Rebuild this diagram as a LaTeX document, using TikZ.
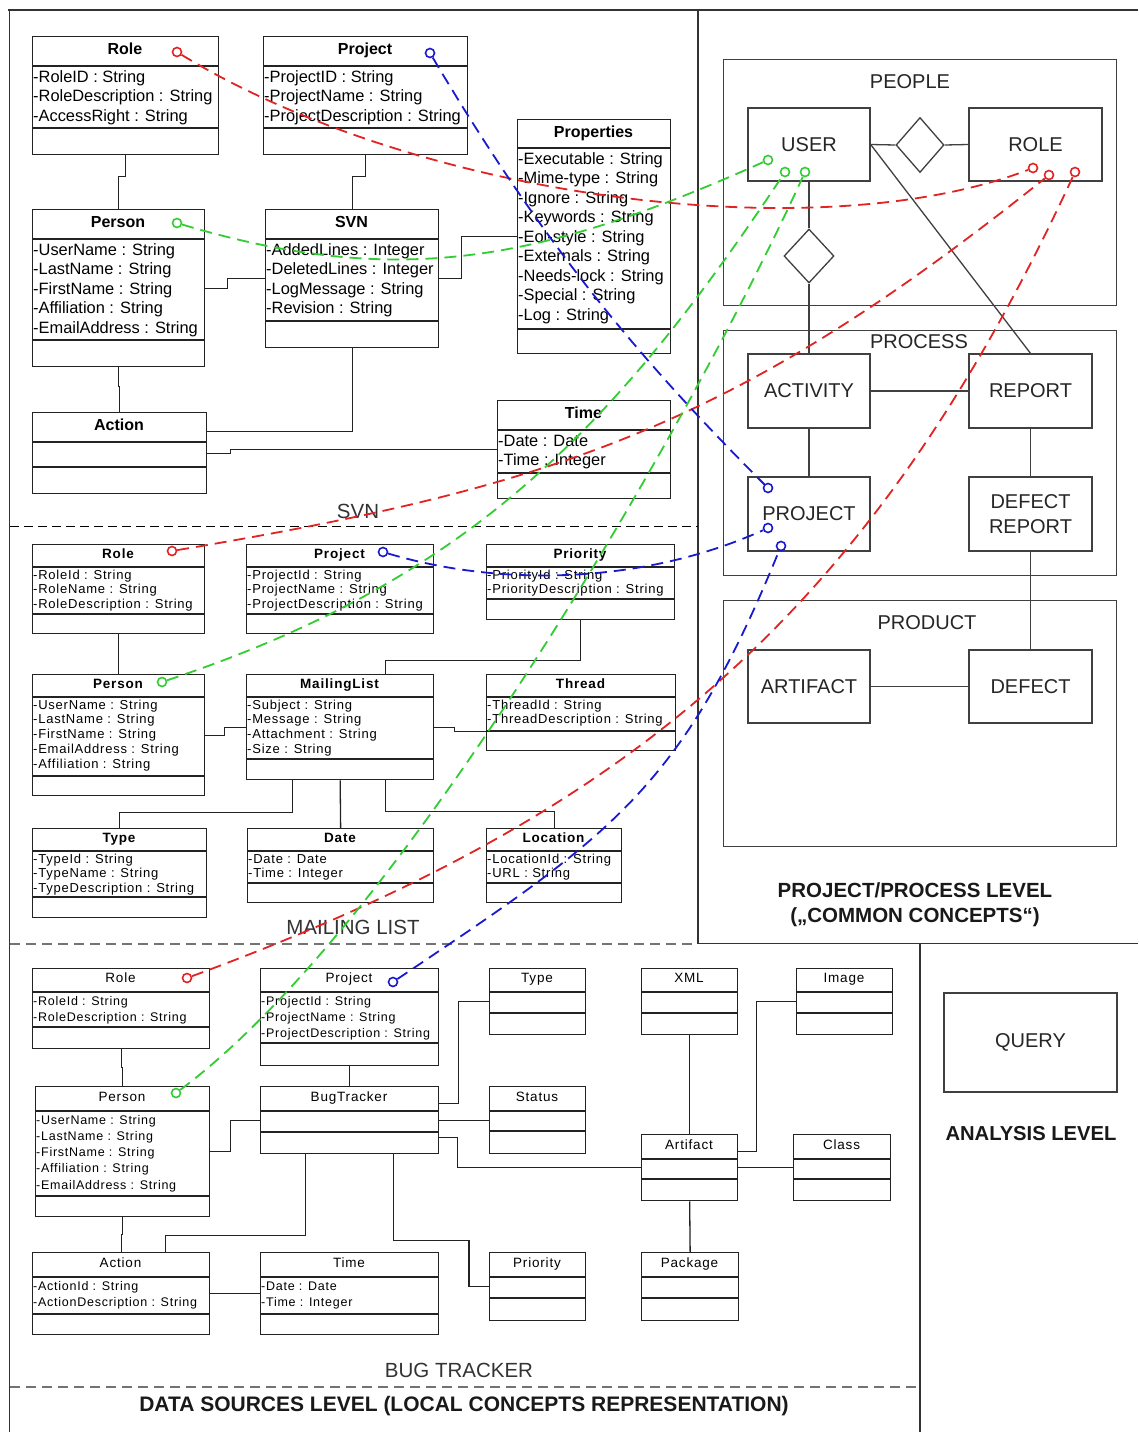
\documentclass[tikz,border=0pt]{standalone}
\usepackage{fontspec}
\setmainfont{Liberation Sans}
\newfontfamily\mlfam[LetterSpace=6]{Liberation Sans}
\newfontfamily\btfam[LetterSpace=6]{Liberation Sans}
\usetikzlibrary{shapes.geometric}
\definecolor{mapred}{RGB}{225,35,35}
\definecolor{mapgreen}{RGB}{50,205,50}
\definecolor{mapblue}{RGB}{25,25,205}
\definecolor{ink}{RGB}{35,35,35}

\tikzset{
  classbox/.style={draw=ink, line width=1.3pt, inner sep=0pt},
  classline/.style={draw=ink, line width=1.3pt},
  link/.style={draw=ink, line width=1.3pt},
  titletext/.style={inner sep=0pt, anchor=base, font=\titlefont},
  attrtext/.style={inner sep=0pt, anchor=base west, font=\attrfont},
  entity/.style={draw=black!75, line width=1.3pt, inner sep=0pt, align=center,
    font=\fontsize{20}{24.5}\selectfont, text=black!85},
  area/.style={draw=black!75, line width=1.3pt, inner sep=0pt},
  erlink/.style={draw=black!75, line width=1.3pt},
  rel/.style={diamond, draw=black!75, line width=1.3pt, inner sep=0pt},
  frame/.style={draw=black!80, line width=1.8pt},
  sepblack/.style={draw=black, line width=1.5pt, dash pattern=on 9pt off 5pt},
  sepgray/.style={draw=black!55, line width=2pt, dash pattern=on 10pt off 6pt},
  mapline/.style={line width=1.8pt, dash pattern=on 12pt off 7pt},
  endpt/.style={circle, draw, line width=1.6pt, fill=white, inner sep=0pt, minimum size=9pt},
  level/.style={font=\fontsize{20.5}{24.5}\selectfont\bfseries, text=black!90, align=center},
  section/.style={font=\fontsize{20.5}{24}\selectfont, text=black!80},
  label/.style={font=\fontsize{20}{24}\selectfont, text=black!85},
}

% UML class: name, x1, y1, x2, y2, header rule, attribute rule, title, attributes
\newcommand\umlclass[9]{%
  \node[classbox, anchor=north west, minimum width={(#4-#2)*1pt},
        minimum height={(#5-#3)*1pt}] (#1) at (#2,#3) {};
  \draw[classline] (#2,#6) -- (#4,#6);
  \draw[classline] (#2,#7) -- (#4,#7);
  \node[titletext] at ({(#2+#4)/2},{(#3+#6)/2+\titledy}) {#8};
  \def\attrlist{#9}%
  \ifx\attrlist\empty\else
    \foreach \myattr [count=\myi from 0] in {#9}
      {\node[attrtext] at (#2+1,{#6+\firstdy+\myi*\attrdy}) {\myattr};}%
  \fi
}
% entity box: name, x1, y1, x2, y2, text
\newcommand\entitybox[6]{%
  \node[entity, minimum width={(#4-#2)*1pt}, minimum height={(#5-#3)*1pt}]
    (#1) at ({(#2+#4)/2},{(#3+#5)/2}) {#6};
}
\newcommand\areabox[5]{%
  \node[area, anchor=north west, minimum width={(#4-#2)*1pt},
        minimum height={(#5-#3)*1pt}] (#1) at (#2,#3) {};
}

\begin{document}
\begin{tikzpicture}[x=1pt,y=-1pt]
\useasboundingbox[fill=white] (0,0) rectangle (1138,1432);

% ---------- level frames ----------
\draw[frame] (8,10) -- (1138,10);
\draw[frame] (9.5,10) -- (9.5,1432);
\draw[frame] (698,10) -- (698,943.5);
\draw[frame] (698,943.5) -- (1138,943.5);
\draw[frame] (920,943.5) -- (920,1432);
\draw[sepblack] (10,526.5) -- (698,526.5);
\draw[sepgray] (10,943.5) -- (698,943.5);
\draw[sepgray] (10,1387) -- (920,1387);

% ---------- SVN ----------
\def\titlefont{\fontsize{16}{19}\selectfont\bfseries}
\def\attrfont{\fontsize{16.4}{19}\selectfont}
\def\titledy{3.8}\def\firstdy{16.2}\def\attrdy{19.5}
\umlclass{svnRole}{32}{36}{218}{154}{66}{128}{Role}
  {-RoleID : String,-RoleDescription : String,-AccessRight : String}
\umlclass{svnProject}{263}{36}{467}{154}{66}{128}{Project}
  {-ProjectID : String,-ProjectName : String,-ProjectDescription : String}
\umlclass{svnPerson}{32}{209}{204}{366}{239}{340}{Person}
  {-UserName : String,-LastName : String,-FirstName : String,-Affiliation : String,-EmailAddress : String}
\umlclass{svnSvn}{265}{209}{438}{347}{239}{321}{SVN}
  {-AddedLines : Integer,-DeletedLines : Integer,-LogMessage : String,-Revision : String}
\umlclass{svnProps}{517}{119}{670}{353}{148}{329}{Properties}
  {-Executable : String,-Mime-type : String,-Ignore : String,-Keywords : String,-Eol-style : String,-Externals : String,-Needs-lock : String,-Special : String,-Log : String}
\umlclass{svnAction}{32}{412}{206}{493}{442}{467}{Action}{}
\umlclass{svnTime}{497}{400}{670}{498}{430}{473}{Time}
  {-Date : Date,-Time : Integer}

\draw[link] (svnRole.south) -- ++(0,21) -| (svnPerson.north);
\draw[link] (svnProject.south) -- ++(0,21) -| (svnSvn.north);
\draw[link] (svnPerson.east) -- ++(22,0) |- (svnSvn.west);
\draw[link] (svnSvn.east) -- ++(22,0) |- (svnProps.west);
\draw[link] (svnPerson.south) -- ++(0,19) -| (svnAction.north);
\draw[link] ([yshift=21.5pt]svnAction.east) -| (svnSvn.south);
\draw[link] (svnAction.east) -- ++(23,0) |- (svnTime.west);
\node[section] (svnLabel) at (358,511) {SVN};

% ---------- Mailing list ----------
\def\titlefont{\mlfam\fontsize{13.5}{16}\selectfont\bfseries}
\def\attrfont{\mlfam\fontsize{13}{15}\selectfont}
\def\titledy{3.3}\def\firstdy{12}\def\attrdy{14.9}
\umlclass{mlRole}{32}{544}{204}{633}{567}{614}{Role}
  {-RoleId : String,-RoleName : String,-RoleDescription : String}
\umlclass{mlProject}{246}{544}{433}{633}{567}{614}{Project}
  {-ProjectId : String,-ProjectName : String,-ProjectDescription : String}
\umlclass{mlPriority}{486}{544}{674}{619}{567}{599}{Priority}
  {-PriorityId : String,-PriorityDescription : String}
\umlclass{mlPerson}{32}{674}{204}{795}{697}{776}{Person}
  {-UserName : String,-LastName : String,-FirstName : String,-EmailAddress : String,-Affiliation : String}
\umlclass{mlList}{246}{674}{433}{779}{697}{759}{MailingList}
  {-Subject : String,-Message : String,-Attachment : String,-Size : String}
\umlclass{mlThread}{486}{674}{675}{750}{697}{731}{Thread}
  {-ThreadId : String,-ThreadDescription : String}
\umlclass{mlType}{32}{828}{206}{917}{851}{897}{Type}
  {-TypeId : String,-TypeName : String,-TypeDescription : String}
\umlclass{mlDate}{247}{828}{433}{902}{851}{883}{Date}
  {-Date : Date,-Time : Integer}
\umlclass{mlLocation}{486}{828}{621}{902}{851}{883}{Location}
  {-LocationId : String,-URL : String}

\draw[link] (mlRole.south) -- (mlPerson.north);
\draw[link] (mlPriority.south) -- ++(0,40) -| ([xshift=45.5pt]mlList.north);
\draw[link] (mlPerson.east) -- ++(19,0) |- (mlList.west);
\draw[link] (mlList.east) -- ++(20,0) |- ([yshift=-19pt]mlThread.west);
\draw[link] ([xshift=-47.5pt]mlList.south) -- ++(0,32) -| (mlType.north);
\draw[link] (mlList.south) -- (mlDate.north);
\draw[link] ([xshift=45.5pt]mlList.south) -- ++(0,31) -| (mlLocation.north);
\node[section] (mlLabel) at (353,927) {MAILING LIST};

% ---------- Bug tracker ----------
\def\titlefont{\btfam\fontsize{13.5}{16}\selectfont}
\def\attrfont{\btfam\fontsize{12.5}{15}\selectfont}
\def\titledy{2.8}\def\firstdy{13.2}\def\attrdy{16.2}
\umlclass{btRole}{32}{968}{209}{1048}{992}{1027}{Role}
  {-RoleId : String,-RoleDescription : String}
\umlclass{btProject}{260}{968}{438}{1065}{992}{1043}{Project}
  {-ProjectId : String,-ProjectName : String,-ProjectDescription : String}
\umlclass{btType}{489}{968}{585}{1034}{992}{1013}{Type}{}
\umlclass{btXml}{641}{968}{737}{1034}{992}{1013}{XML}{}
\umlclass{btImage}{796}{968}{892}{1034}{992}{1013}{Image}{}
\umlclass{btPerson}{35}{1086}{209}{1216}{1111}{1196}{Person}
  {-UserName : String,-LastName : String,-FirstName : String,-Affiliation : String,-EmailAddress : String}
\umlclass{btTracker}{260}{1086}{438}{1153}{1111}{1132}{BugTracker}{}
\umlclass{btStatus}{489}{1086}{585}{1153}{1111}{1131}{Status}{}
\umlclass{btArtifact}{641}{1134}{737}{1200}{1159}{1179}{Artifact}{}
\umlclass{btClass}{793}{1134}{890}{1200}{1159}{1179}{Class}{}
\umlclass{btAction}{32}{1252}{209}{1334}{1277}{1314}{Action}
  {-ActionId : String,-ActionDescription : String}
\umlclass{btTime}{260}{1252}{438}{1334}{1277}{1314}{Time}
  {-Date : Date,-Time : Integer}
\umlclass{btPriority}{489}{1252}{585}{1320}{1277}{1298}{Priority}{}
\umlclass{btPackage}{641}{1252}{738}{1320}{1277}{1298}{Package}{}

\draw[link] (btRole.south) -- ++(0,18) -| (btPerson.north);
\draw[link] (btProject.south) -- (btTracker.north);
\draw[link] (btPerson.east) -- ++(20,0) |- (btTracker.west);
\draw[link] ([yshift=16.5pt]btTracker.east) -- ++(19,0) |- (btType.west);
\draw[link] (btTracker.east) -- (btStatus.west);
\draw[link] ([yshift=-17.5pt]btTracker.east) -- ++(18,0) |- (btArtifact.west);
\draw[link] (btXml.south) -- (btArtifact.north);
\draw[link] ([yshift=16pt]btArtifact.east) -- ++(18,0) |- (btImage.west);
\draw[link] (btArtifact.east) -- (btClass.west);
\draw[link] (btArtifact.south) -- (btPackage.north);
\draw[link] (btPerson.south) -- ++(0,17) -| (btAction.north);
\draw[link] ([xshift=-44pt]btTracker.south) -- ++(0,81) -| ([xshift=44.5pt]btAction.north);
\draw[link] ([xshift=44pt]btTracker.south) |- ([xshift=-20pt,yshift=46pt]btPriority.west) |- (btPriority.west);
\draw[link] (btAction.east) -- (btTime.west);
\node[section] (btLabel) at (459,1370) {BUG TRACKER};
\node[level, font=\fontsize{21}{25}\selectfont\bfseries] (dsLabel) at (464,1406)
  {DATA SOURCES LEVEL (LOCAL CONCEPTS REPRESENTATION)};

% ---------- common concepts ----------
\areabox{people}{723}{59}{1116}{305}
\areabox{process}{723}{330}{1116}{575}
\areabox{product}{723}{600}{1116}{846}
\node[label] (peopleLabel) at (910,82) {PEOPLE};
\node[label] (processLabel) at (919,342) {PROCESS};
\node[label] (productLabel) at (927,623) {PRODUCT};
\entitybox{user}{748}{108}{870}{181}{USER}
\entitybox{role}{969}{108}{1102}{181}{ROLE}
\entitybox{activity}{748}{354}{870}{428}{ACTIVITY}
\entitybox{report}{969}{354}{1092}{428}{REPORT}
\entitybox{project}{748}{477}{870}{551}{PROJECT}
\entitybox{defrep}{969}{477}{1092}{551}{DEFECT\\REPORT}
\entitybox{artifact}{748}{650}{870}{723}{ARTIFACT}
\entitybox{defect}{969}{650}{1092}{723}{DEFECT}
\node[rel, minimum width=48pt, minimum height=55pt] (d1) at (920,145) {};
\node[rel, minimum width=50pt, minimum height=54pt] (d2) at (809,256) {};
\draw[erlink] (user.east) -- (d1.west);
\draw[erlink] (d1.east) -- (role.west);
\draw[erlink] (user.south) -- (d2.north);
\draw[erlink] (d2.south) -- (activity.north);
\draw[erlink] (user.east) -- (report.north);
\draw[erlink] (activity.east) -- (report.west);
\draw[erlink] (activity.south) -- (project.north);
\draw[erlink] (report.south) -- (defrep.north);
\draw[erlink] (defrep.south) -- (defect.north);
\draw[erlink] (artifact.east) -- (defect.west);
\node[level] (ppLabel) at (915,904.5) {PROJECT/PROCESS LEVEL\\(„COMMON CONCEPTS“)};

% ---------- analysis ----------
\entitybox{query}{944}{993}{1117}{1092}{QUERY}
\node[level, font=\fontsize{20.2}{24}\selectfont\bfseries] (anLabel) at (1031,1134) {ANALYSIS LEVEL};

% ---------- mapping end points ----------
\node[endpt, draw=mapred] (redSvn) at (177,52) {};
\node[endpt, draw=mapred] (redMl) at (172,551) {};
\node[endpt, draw=mapred] (redBt) at (187,978) {};
\node[endpt, draw=mapred] (redRoleA) at (1033,168) {};
\node[endpt, draw=mapred] (redRoleB) at (1049,175) {};
\node[endpt, draw=mapred] (redRoleC) at (1075,172) {};
\node[endpt, draw=mapblue] (blueSvn) at (430,53) {};
\node[endpt, draw=mapblue] (blueMl) at (383,552) {};
\node[endpt, draw=mapblue] (blueBt) at (393,982) {};
\node[endpt, draw=mapblue] (blueProjA) at (768,488) {};
\node[endpt, draw=mapblue] (blueProjB) at (768,528) {};
\node[endpt, draw=mapblue] (blueProjC) at (781,546) {};
\node[endpt, draw=mapgreen] (greenSvn) at (177,223) {};
\node[endpt, draw=mapgreen] (greenMl) at (162,682) {};
\node[endpt, draw=mapgreen] (greenBt) at (176,1093) {};
\node[endpt, draw=mapgreen] (greenUserA) at (768,160) {};
\node[endpt, draw=mapgreen] (greenUserB) at (785,172) {};
\node[endpt, draw=mapgreen] (greenUserC) at (805,172) {};

% ---------- mappings ----------
\draw[mapline, mapred] (redSvn) .. controls (420,200) and (820,250) .. (redRoleA);
\draw[mapline, mapred] (redMl) .. controls (559,486) and (735,426) .. (redRoleB);
\draw[mapline, mapred] (redBt) .. controls (629,815) and (870,615) .. (redRoleC);
\draw[mapline, mapblue] (blueSvn) .. controls (541,240) and (633,353) .. (blueProjA);
\draw[mapline, mapblue] (blueMl) .. controls (504,588) and (646,583) .. (blueProjB);
\draw[mapline, mapblue] (blueBt) .. controls (610,836) and (681,791) .. (blueProjC);
\draw[mapline, mapgreen] (greenSvn) .. controls (398,289) and (540,262) .. (greenUserA);
\draw[mapline, mapgreen] (greenMl) .. controls (462,582) and (609,437) .. (greenUserB);
\draw[mapline, mapgreen] (greenBt) .. controls (404,923) and (691,422) .. (greenUserC);
\end{tikzpicture}
\end{document}
